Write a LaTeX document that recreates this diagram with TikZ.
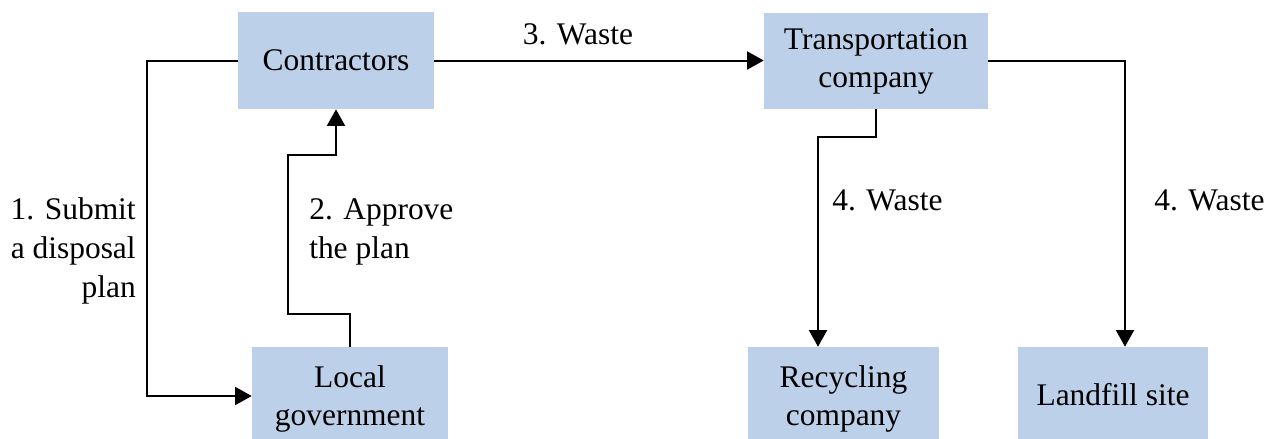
\documentclass[tikz,border=0pt]{standalone}
\usepackage{fontspec}
\setmainfont{LiberationSerif}[Extension=.ttf, UprightFont=*-Regular, BoldFont=*-Bold, ItalicFont=*-Italic, BoldItalicFont=*-BoldItalic]
\usetikzlibrary{arrows.meta}
\definecolor{boxblue}{RGB}{189,208,233}
\tikzset{
  box/.style={rectangle, fill=boxblue, inner sep=0pt, align=center,
    font=\fontsize{23.6}{28.5}\selectfont},
  lbl/.style={inner sep=0pt, font=\fontsize{23.6}{29.25}\selectfont},
  link/.style={line width=1.5pt},
  arr/.style={link, -{Triangle[width=13.5pt,length=12.5pt]}}
}
\begin{document}
\begin{tikzpicture}[x=0.75pt,y=-0.75pt]
\useasboundingbox (0,0) rectangle (1279,439);
% boxes (the bottom row runs past the lower edge)
\node[box, minimum width=147pt, minimum height=72.75pt] (c) at (336,60.5) {Contractors};
\node[box, minimum width=168pt, minimum height=72pt] (t) at (876,61) {Transportation\\company};
\node[box, minimum width=147pt, minimum height=78pt] (lg) at (350,399) {Local\\government};
\node[box, minimum width=143.25pt, minimum height=78pt] (rc) at (843.5,399) {Recycling\\company};
\node[box, minimum width=142.5pt, minimum height=72pt] (lf) at (1113,395) {Landfill site};
% bend points
\coordinate (b1) at (147,60.5);
\coordinate (b2) at (147,396);
\coordinate (a1) at (350,314);
\coordinate (a2) at (288,314);
\coordinate (a3) at (288,155);
\coordinate (a4) at (336,155);
\coordinate (r1) at (876,137);
\coordinate (r2) at (818,137);
\coordinate (l1) at (1125,61);
% connectors
\draw[arr] (c.west) -- (b1) -- (b2) -- (b2 -| lg.west);
\draw[arr] (lg.north -| a1) -- (a1) -- (a2) -- (a3) -- (a4) -- (c.south);
\draw[arr] (c.east) -- (c.east -| t.west);
\draw[arr] (t.south) -- (r1) -- (r2) -- (r2 |- rc.north);
\draw[arr] (t.east |- l1) -- (l1) -- (l1 |- lf.north);
% labels (base anchor of a multi-line label is its last line)
\node[lbl, anchor=base] (w3) at (578,44) {3. Waste};
\node[lbl, anchor=base east, align=right] (s1) at (136,297) {1. Submit\\a disposal\\plan};
\node[lbl, anchor=base west, align=left] (s2) at (309,258) {2. Approve\\the plan};
\node[lbl, anchor=base west] (w4a) at (832,210) {4. Waste};
\node[lbl, anchor=base west] (w4b) at (1154,210) {4. Waste};
\end{tikzpicture}
\end{document}
